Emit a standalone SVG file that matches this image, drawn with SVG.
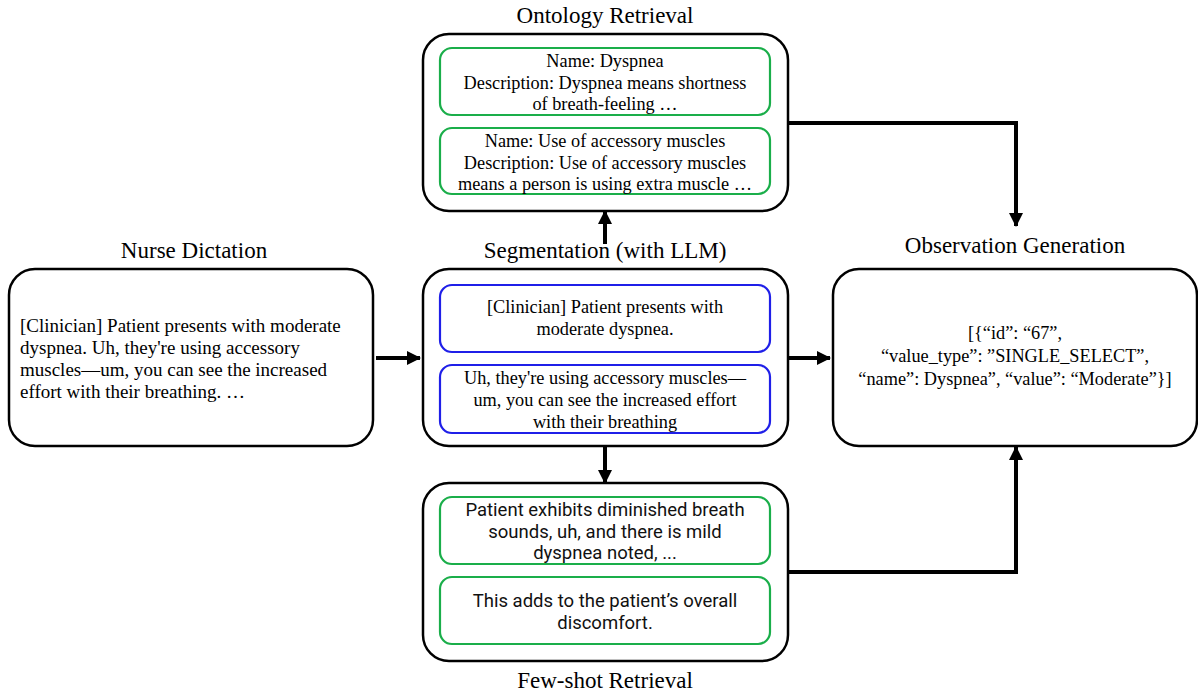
<svg xmlns="http://www.w3.org/2000/svg" width="1198" height="695" viewBox="0 0 1198 695">
<defs>
<marker id="ah" markerWidth="14" markerHeight="14" viewBox="0 0 14 14" refX="13" refY="7" orient="auto" markerUnits="userSpaceOnUse">
<path d="M0,0 L14,7 L0,14 Z" fill="#000"/>
</marker>
<style>
.outer{fill:#fff;stroke:#000;stroke-width:2.5}
.green{fill:#fff;stroke:#1aae4a;stroke-width:2.2}
.blue{fill:#fff;stroke:#1f1fe8;stroke-width:2.2}
.title{font-family:"Liberation Serif","Times New Roman",serif;font-size:23px;fill:#000;text-anchor:middle}
.t{font-family:"Liberation Serif","Times New Roman",serif;font-size:18.3px;fill:#000;text-anchor:middle}
.tl{font-family:"Liberation Serif","Times New Roman",serif;font-size:19px;fill:#000}
.s{font-family:Roboto,"Liberation Sans",sans-serif;font-size:18.5px;fill:#111;text-anchor:middle}
.c{fill:none;stroke:#000;stroke-width:4}
</style>
</defs>
<rect width="1198" height="695" fill="#fff"/>

<g id="connectors">
<line class="c" x1="376" y1="358" x2="420" y2="358" marker-end="url(#ah)"/>
<line class="c" x1="788" y1="358" x2="830" y2="358" marker-end="url(#ah)"/>
<line class="c" x1="605" y1="244" x2="605" y2="211" marker-end="url(#ah)"/>
<line class="c" x1="605" y1="446" x2="605" y2="483" marker-end="url(#ah)"/>
<polyline class="c" points="788,123 1016,123 1016,226" marker-end="url(#ah)"/>
<polyline class="c" points="788,572 1016,572 1016,447" marker-end="url(#ah)"/>
</g>

<g id="ontology">
<text class="title" x="605" y="23">Ontology Retrieval</text>
<rect class="outer" x="423" y="34" width="365" height="177" rx="26"/>
<rect class="green" x="440" y="48" width="330" height="67" rx="12"/>
<text class="t" x="605" y="67">Name: Dyspnea<tspan x="605" dy="21.5">Description: Dyspnea means shortness</tspan><tspan x="605" dy="21.5">of breath-feeling …</tspan></text>
<rect class="green" x="440" y="128" width="330" height="66" rx="12"/>
<text class="t" x="605" y="147">Name: Use of accessory muscles<tspan x="605" dy="21.5">Description: Use of accessory muscles</tspan><tspan x="605" dy="21.5">means a person is using extra muscle …</tspan></text>
</g>

<g id="nurse">
<text class="title" x="194" y="258">Nurse Dictation</text>
<rect class="outer" x="9" y="269" width="364" height="177" rx="26"/>
<text class="tl" x="20" y="332">[Clinician] Patient presents with moderate<tspan x="20" dy="22">dyspnea. Uh, they're using accessory</tspan><tspan x="20" dy="22">muscles—um, you can see the increased</tspan><tspan x="20" dy="22">effort with their breathing. …</tspan></text>
</g>

<g id="segmentation">
<text class="title" x="605" y="258">Segmentation (with LLM)</text>
<rect class="outer" x="423" y="269" width="365" height="177" rx="26"/>
<rect class="blue" x="440" y="285" width="330" height="67" rx="12"/>
<text class="t" x="605" y="313">[Clinician] Patient presents with<tspan x="605" dy="22">moderate dyspnea.</tspan></text>
<rect class="blue" x="440" y="365" width="330" height="68" rx="12"/>
<text class="t" x="605" y="384">Uh, they're using accessory muscles—<tspan x="605" dy="22">um, you can see the increased effort</tspan><tspan x="605" dy="22">with their breathing</tspan></text>
</g>

<g id="observation">
<text class="title" x="1015" y="253">Observation Generation</text>
<rect class="outer" x="833" y="269" width="364" height="177" rx="26"/>
<text class="t" x="1015" y="339">[{“id”: “67”,<tspan x="1015" dy="23">“value_type”: ”SINGLE_SELECT”,</tspan><tspan x="1015" dy="23">“name”: Dyspnea”, “value”: “Moderate”}]</tspan></text>
</g>

<g id="fewshot">
<rect class="outer" x="423" y="483" width="365" height="178" rx="26"/>
<rect class="green" x="440" y="497" width="330" height="67" rx="12"/>
<text class="s" x="605" y="516">Patient exhibits diminished breath<tspan x="605" dy="21.7">sounds, uh, and there is mild</tspan><tspan x="605" dy="21.7">dyspnea noted, ...</tspan></text>
<rect class="green" x="440" y="577" width="330" height="67" rx="12"/>
<text class="s" x="605" y="607">This adds to the patient’s overall<tspan x="605" dy="21.7">discomfort.</tspan></text>
<text class="title" x="605" y="688">Few-shot Retrieval</text>
</g>
</svg>
